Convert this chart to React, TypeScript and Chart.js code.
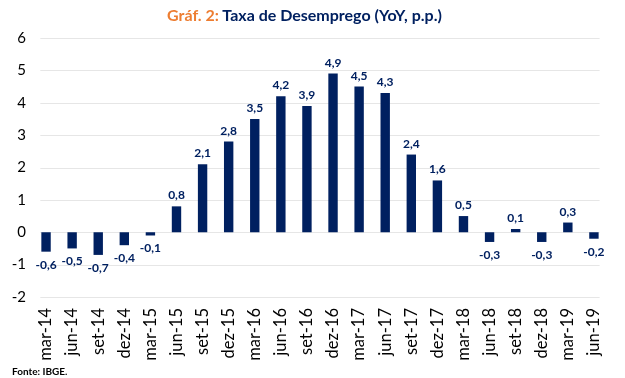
import React, { useEffect, useRef } from "react";
import { Chart, registerables } from "chart.js";

Chart.register(...registerables);

const categories = [
  "mar-14", "jun-14", "set-14", "dez-14",
  "mar-15", "jun-15", "set-15", "dez-15",
  "mar-16", "jun-16", "set-16", "dez-16",
  "mar-17", "jun-17", "set-17", "dez-17",
  "mar-18", "jun-18", "set-18", "dez-18",
  "mar-19", "jun-19",
];
const values = [
  -0.6, -0.5, -0.7, -0.4,
  -0.1, 0.8, 2.1, 2.8,
  3.5, 4.2, 3.9, 4.9,
  4.5, 4.3, 2.4, 1.6,
  0.5, -0.3, 0.1, -0.3,
  0.3, -0.2,
];
const yMin = -2;
const yMax = 6;
const yStep = 1;

const NAVY = "#002060";
const FONT = "Lato, 'Open Sans', sans-serif";

const gridPlugin = {
  id: "customGrid",
  beforeDatasetsDraw(chart: any) {
    const { ctx } = chart;
    const x = chart.scales.x;
    const y = chart.scales.y;
    const meta = chart.getDatasetMeta(0);
    const half = meta.data.length ? meta.data[0].width / 2 : 0;
    const x0 = x.getPixelForValue(0) - half - 1;
    const x1 = x.getPixelForValue(categories.length - 1) + half + 1;
    ctx.save();
    ctx.strokeStyle = "#e6e6e6";
    ctx.lineWidth = 1;
    y.ticks.forEach((t: any) => {
      const py = Math.round(y.getPixelForValue(t.value)) + 0.5;
      ctx.beginPath();
      ctx.moveTo(x0, py);
      ctx.lineTo(x1, py);
      ctx.stroke();
    });
    ctx.restore();
  },
};

const labelPlugin = {
  id: "valueLabels",
  afterDatasetsDraw(chart: any) {
    const { ctx } = chart;
    const meta = chart.getDatasetMeta(0);
    ctx.save();
    ctx.fillStyle = NAVY;
    ctx.font = `bold 12px ${FONT}`;
    ctx.textAlign = "center";
    meta.data.forEach((bar: any, i: number) => {
      const v = values[i];
      const txt = v.toFixed(1).replace(".", ",");
      if (v >= 0) {
        ctx.textBaseline = "alphabetic";
        ctx.fillText(txt, bar.x, bar.y - 7);
      } else {
        ctx.textBaseline = "top";
        ctx.fillText(txt, bar.x, bar.y + 7);
      }
    });
    ctx.restore();
  },
};

export default function App() {
  const ref = useRef<HTMLCanvasElement | null>(null);

  useEffect(() => {
    if (!ref.current) return;
    const chart = new Chart(ref.current, {
      type: "bar",
      data: {
        labels: categories,
        datasets: [
          {
            data: values,
            backgroundColor: NAVY,
            borderWidth: 0,
            categoryPercentage: 1,
            barPercentage: 0.36,
          },
        ],
      },
      options: {
        animation: false,
        responsive: false,
        maintainAspectRatio: false,
        layout: { padding: { top: 38, right: 12, bottom: 17, left: 0 } },
        plugins: {
          legend: { display: false },
          tooltip: { enabled: false },
          title: { display: false },
        },
        scales: {
          x: {
            grid: { display: false, drawTicks: false },
            border: { display: false },
            ticks: {
              minRotation: 90,
              maxRotation: 90,
              autoSkip: false,
              padding: 11,
              color: "#000000",
              font: { family: FONT, size: 16.5 },
            },
            afterFit: (s: any) => {
              s.height = 64;
            },
          },
          y: {
            min: yMin,
            max: yMax,
            grid: { display: false, drawTicks: false },
            border: { display: false },
            ticks: {
              stepSize: yStep,
              padding: 7,
              color: "#000000",
              font: { family: FONT, size: 15 },
            },
            afterFit: (s: any) => {
              s.width = 33;
            },
          },
        },
      },
      plugins: [gridPlugin, labelPlugin],
    });
    return () => chart.destroy();
  }, []);

  return (
    <div
      style={{
        position: "fixed",
        left: 0,
        top: 0,
        width: 625,
        height: 378,
        background: "#ffffff",
        overflow: "hidden",
      }}
    >
      <canvas
        ref={ref}
        width={625}
        height={378}
        style={{ position: "absolute", left: 0, top: 0, width: 625, height: 378 }}
      />
      <div
        style={{
          position: "absolute",
          left: 0,
          top: 4,
          width: 609,
          textAlign: "center",
          fontFamily: FONT,
          fontWeight: 700,
          fontSize: 16,
          lineHeight: "22px",
          color: NAVY,
          whiteSpace: "nowrap",
        }}
      >
        <span style={{ color: "#ED7D31" }}>Gráf. 2:</span> Taxa de Desemprego (YoY, p.p.)
      </div>
      <div
        style={{
          position: "absolute",
          left: 12,
          top: 365,
          fontFamily: FONT,
          fontWeight: 700,
          fontSize: 10,
          lineHeight: "12px",
          color: "#000000",
          whiteSpace: "nowrap",
        }}
      >
        Fonte: IBGE.
      </div>
    </div>
  );
}
